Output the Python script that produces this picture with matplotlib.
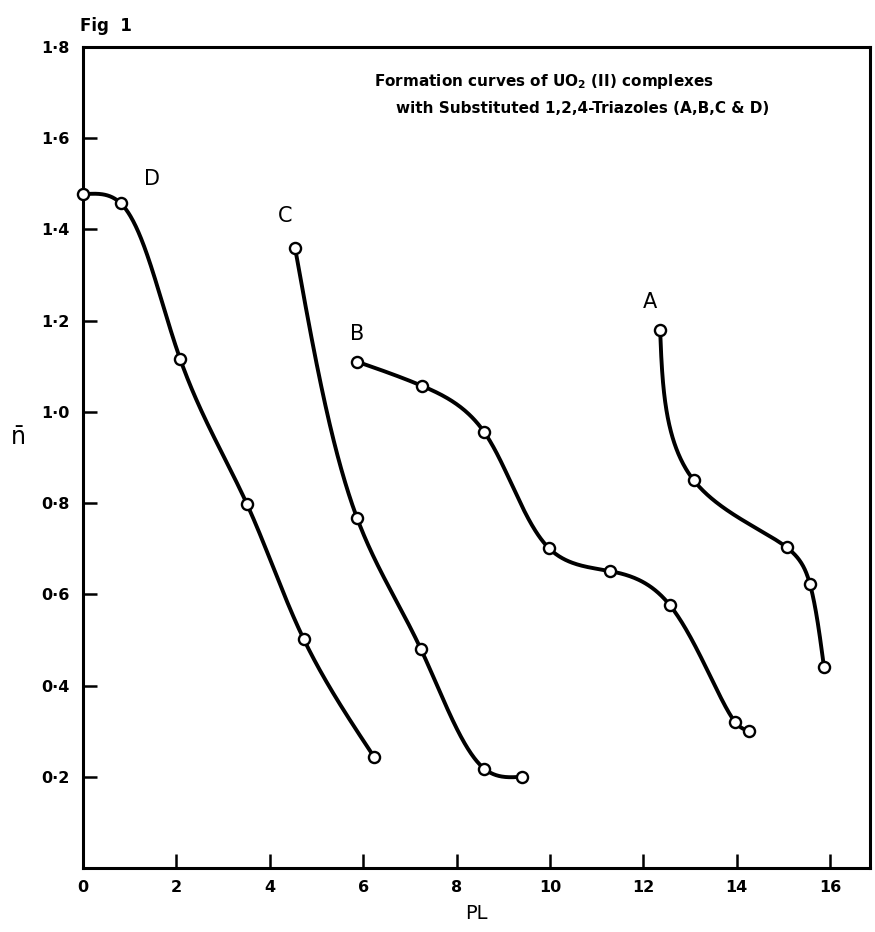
import matplotlib
matplotlib.use('Agg')
import matplotlib.pyplot as plt
import numpy as np

# 读数 (PL, n̄)
pl_a = [12.36, 13.08, 15.07, 15.57, 15.87]
n_a = [1.18, 0.85, 0.703, 0.622, 0.44]

pl_b = [5.87, 7.26, 8.59, 9.98, 11.28, 12.57, 13.96, 14.26]
n_b = [1.11, 1.057, 0.956, 0.701, 0.651, 0.576, 0.321, 0.301]

pl_c = [4.54, 5.87, 7.24, 8.59, 9.40]
n_c = [1.36, 0.767, 0.479, 0.218, 0.20]

pl_d = [0.0, 0.81, 2.08, 3.51, 4.73, 6.23]
n_d = [1.477, 1.457, 1.116, 0.798, 0.501, 0.244]

x_ticks = [0, 2, 4, 6, 8, 10, 12, 14, 16]
y_ticks = [0.2, 0.4, 0.6, 0.8, 1.0, 1.2, 1.4, 1.6, 1.8]
y_tick_labels = ['0·2', '0·4', '0·6', '0·8', '1·0', '1·2', '1·4', '1·6', '1·8']

curve_labels = ['A', 'B', 'C', 'D']
label_pos = [(12.14, 1.24), (5.87, 1.17), (4.32, 1.43), (1.48, 1.51)]


def natural_spline(t, v, tt):
    # 自然三次样条
    n = len(t)
    h = np.diff(t)
    A = np.zeros((n, n))
    r = np.zeros(n)
    A[0, 0] = A[-1, -1] = 1
    for i in range(1, n - 1):
        A[i, i - 1] = h[i - 1]
        A[i, i] = 2 * (h[i - 1] + h[i])
        A[i, i + 1] = h[i]
        r[i] = 6 * ((v[i + 1] - v[i]) / h[i] - (v[i] - v[i - 1]) / h[i - 1])
    m = np.linalg.solve(A, r)
    idx = np.clip(np.searchsorted(t, tt) - 1, 0, n - 2)
    ti, hi = t[idx], h[idx]
    a = (t[idx + 1] - tt) / hi
    b = (tt - ti) / hi
    return (a * v[idx] + b * v[idx + 1]
            + ((a ** 3 - a) * m[idx] + (b ** 3 - b) * m[idx + 1]) * hi ** 2 / 6)


def smooth(ax, xs, ys, n=400):
    # 在显示坐标中按弦长参数化
    pts = ax.transData.transform(np.column_stack([xs, ys]))
    d = np.sqrt(np.linalg.norm(np.diff(pts, axis=0), axis=1))
    t = np.concatenate([[0], np.cumsum(d)])
    tt = np.linspace(0, t[-1], n)
    out = np.column_stack([natural_spline(t, pts[:, 0], tt),
                           natural_spline(t, pts[:, 1], tt)])
    back = ax.transData.inverted().transform(out)
    return back[:, 0], back[:, 1]


fig = plt.figure(figsize=(8.75, 9.32), dpi=100)
ax = fig.add_axes([0.0949, 0.0687, 0.8991, 0.8809])
ax.set_xlim(0, 16.85)
ax.set_ylim(0, 1.8)

for xs, ys in [(pl_a, n_a), (pl_b, n_b), (pl_c, n_c), (pl_d, n_d)]:
    sx, sy = smooth(ax, xs, ys)
    ax.plot(sx, sy, color='black', lw=2.8, solid_capstyle='round', zorder=2)
    ax.plot(xs, ys, 'o', ms=8, mfc='white', mec='black', mew=1.7,
            zorder=3, clip_on=False)

for lab, (lx, ly) in zip(curve_labels, label_pos):
    ax.text(lx, ly, lab, fontsize=15, ha='center', va='center')

for s in ax.spines.values():
    s.set_linewidth(2.2)

ax.set_xticks(x_ticks)
ax.set_xticklabels([str(v) for v in x_ticks], fontsize=11.5, fontweight='bold')
ax.set_yticks(y_ticks)
ax.set_yticklabels(y_tick_labels, fontsize=11.5, fontweight='bold')
ax.tick_params(direction='in', length=10, width=1.8, pad=9)
ax.tick_params(axis='y', pad=10)

ax.set_xlabel('PL', fontsize=14, labelpad=6)
fig.text(0.02, 0.53, r'$\bar{\mathregular{n}}$', fontsize=17, ha='center', va='center')

fig.text(0.091, 0.972, 'Fig  1', fontsize=12, fontweight='bold', ha='left', va='center')
fig.text(0.428, 0.913, r'Formation curves of UO$_\mathbf{2}$ (II) complexes',
         fontsize=11, fontweight='bold', ha='left', va='center')
fig.text(0.452, 0.884, 'with Substituted 1,2,4-Triazoles (A,B,C & D)',
         fontsize=11, fontweight='bold', ha='left', va='center')

fig.savefig('out.png', dpi=100)
